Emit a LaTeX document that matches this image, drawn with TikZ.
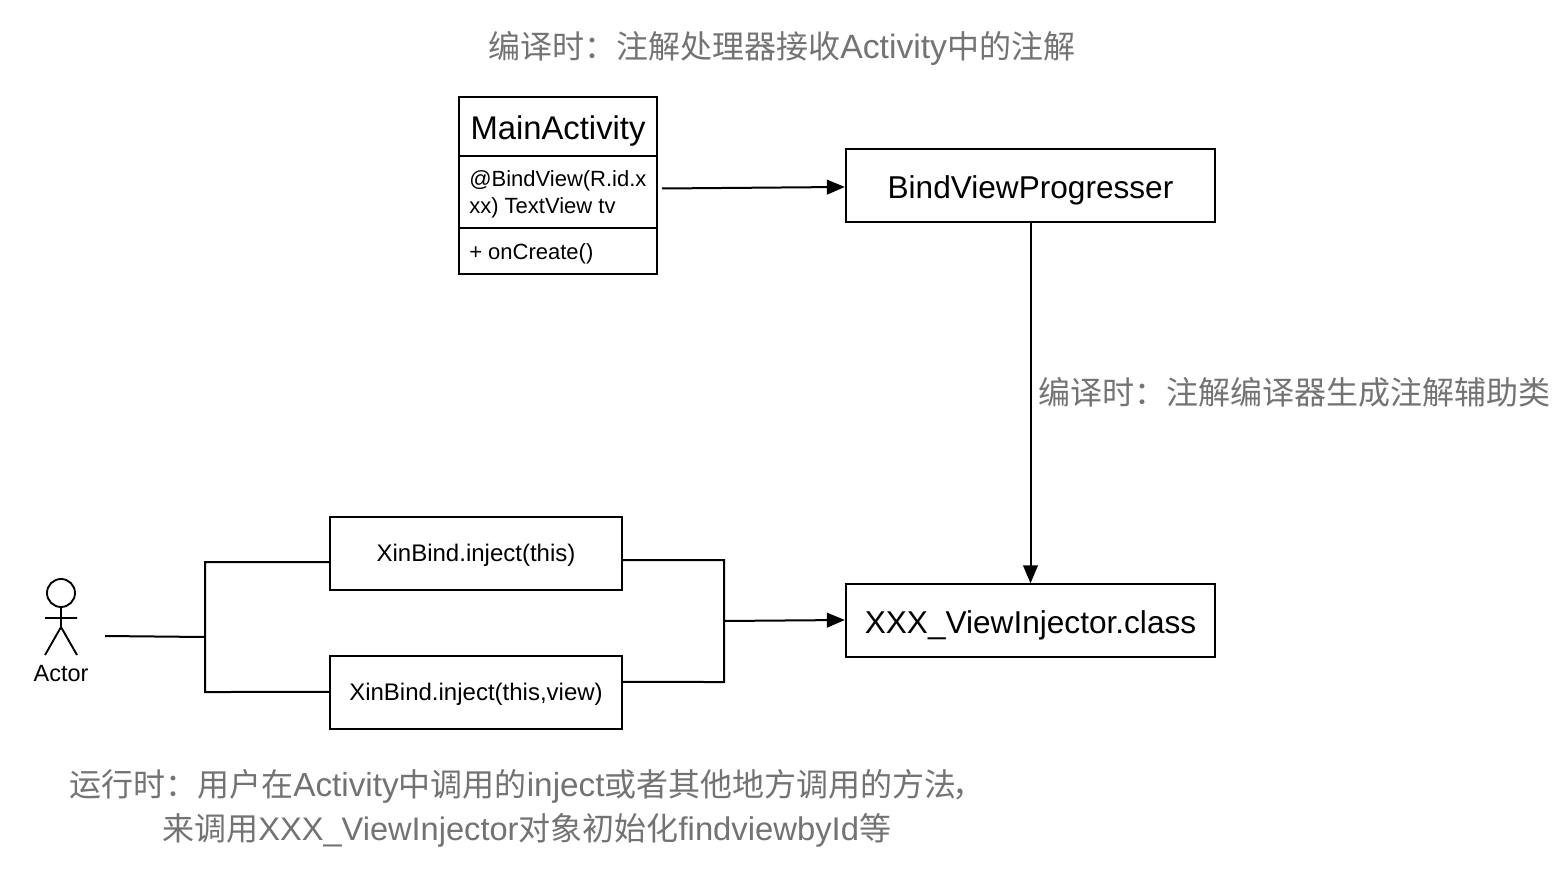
\documentclass[tikz,border=0pt]{standalone}
\usepackage{fontspec}
\setmainfont{Liberation Sans}
\newfontfamily\cjk{Noto Sans CJK SC}
\usetikzlibrary{arrows.meta}
\newcommand\la[2][25.3]{{\rmfamily\fontsize{#1}{28}\selectfont #2}}
\tikzset{
 box/.style={draw=black,line width=1.5pt,minimum width=#1,minimum height=54.75pt,inner sep=0pt,fill=white},
 bl/.style={text height=#1,text depth=0pt},
 big/.style={font=\fontsize{23.7}{28}\selectfont},
 small/.style={font=\fontsize{18}{22}\selectfont},
 lbl/.style={text=black!55,font=\cjk\fontsize{24}{28}\selectfont,inner sep=0pt,anchor=base west},
 ln/.style={draw=black,line width=1.5pt},
 arr/.style={ln,-{Stealth[length=13.5pt,width=11pt,inset=0pt]}},
}
\begin{document}
\begin{tikzpicture}[x=0.75pt,y=-0.75pt]
\useasboundingbox (0,0) rectangle (1568,878);
\fill[white] (0,0) rectangle (1568,878);
\node[lbl] (t1) at (488,58) {编译时：注解处理器接收\la{Activity}中的注解};
% class
\node[draw,line width=1.5pt,minimum width=148.5pt,minimum height=44.6pt,inner sep=0pt] (cls) at (558,126.5) {};
\node[inner sep=0pt,font=\fontsize{24.6}{28}\selectfont] (clsT) at (558,131) {MainActivity};
\node[draw,line width=1.5pt,minimum width=148.5pt,minimum height=54pt,inner sep=0pt] (attr) at (558,192.3) {};
\node[inner sep=0pt,anchor=west,align=left,font=\fontsize{16.5}{20}\selectfont] (attrT) at (469,194.5) {@BindView(R.id.x\\xx) TextView tv};
\node[draw,line width=1.5pt,minimum width=148.5pt,minimum height=34.5pt,inner sep=0pt] (meth) at (558,251.3) {};
\node[inner sep=0pt,anchor=west,font=\fontsize{16.5}{20}\selectfont] (methT) at (469,253.5) {+ onCreate()};
\node[box=277pt,big,bl=18.8pt] (bvp) at (1030.5,185.5) {BindViewProgresser};
\node[box=277pt,big,bl=18.8pt] (xxx) at (1030.5,620.8) {XXX\_ViewInjector.class};
\node[box=219pt,small,bl=11.4pt] (a) at (476,553.5) {XinBind.inject(this)};
\node[box=219pt,small,bl=11.4pt] (b) at (476,692.5) {XinBind.inject(this,view)};
\coordinate (attrE) at (662,188.5);
\draw[arr] (attrE) -- ([yshift=-1.1pt]bvp.west);
\draw[arr] (bvp.south) -- (xxx.north);
\node[lbl] (t2) at (1038,404) {编译时：注解编译器生成注解辅助类};
% actor
\draw[line width=1.4pt] (61,593) circle[radius=14];
\draw[line width=1.4pt] (61,607) -- (61,627) (45,618) -- (77,618) (61,627) -- (45,655) (61,627) -- (77,655);
\node[inner sep=0pt,font=\fontsize{17.6}{20}\selectfont] (actor) at (61,674) {Actor};
\coordinate (s) at (105,636);
\coordinate (j) at (205,637);
\coordinate (k) at (724,621);
\draw[ln] (s) -- (j);
\draw[ln,line join=miter] ([yshift=-6.4pt]a.west) -- (205,562) -- (205,692) -- ([yshift=.4pt]b.west);
\draw[ln,line join=miter] ([yshift=-4.9pt]a.east) -- (724,560) -- (724,682) -- ([yshift=7.9pt]b.east);
\draw[arr] (k) -- ([yshift=.6pt]xxx.west);
\node[lbl] (t3) at (69,796) {运行时：用户在\la[25]{Activity}中调用的\la[25]{inject}或者其他地方调用的方法\kern-3pt，};
\node[lbl] (t4) at (162,840) {来调用\la[24.45]{XXX\_ViewInjector}对象初始化\la[24.6]{findviewbyId}等};
\end{tikzpicture}
\end{document}
